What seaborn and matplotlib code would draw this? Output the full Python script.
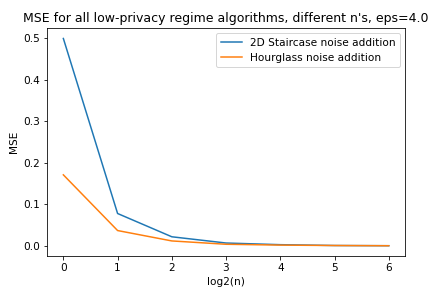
import numpy as np
import pandas as pd
import seaborn as sns
import matplotlib
matplotlib.use('Agg')
import matplotlib.pyplot as plt

plt.rcParams['font.size'] = 10.5

# values
log2_n = [0, 1, 2, 3, 4, 5, 6]
staircase = [0.499, 0.078, 0.022, 0.007, 0.003, 0.001, 0.0005]
hourglass = [0.171, 0.037, 0.012, 0.004, 0.002, 0.001, 0.0005]

df = pd.DataFrame({
    'log2(n)': log2_n * 2,
    'MSE': staircase + hourglass,
    'method': ['2D Staircase noise addition'] * 7 + ['Hourglass noise addition'] * 7,
})

fig, ax = plt.subplots(figsize=(436 / 72, 293 / 72), dpi=72)
fig.subplots_adjust(left=0.108, right=0.929, top=0.904, bottom=0.126)
sns.lineplot(data=df, x='log2(n)', y='MSE', hue='method', ax=ax,
             palette=['tab:blue', 'tab:orange'], linewidth=1.5)
ax.set_title("MSE for all low-privacy regime algorithms, different n's, eps=4.0",
             fontsize=12.5)
ax.legend(loc='upper right')
ax.set_xticks(log2_n)
ax.set_yticks([0.0, 0.1, 0.2, 0.3, 0.4, 0.5])
fig.savefig('out.png', dpi=72)
